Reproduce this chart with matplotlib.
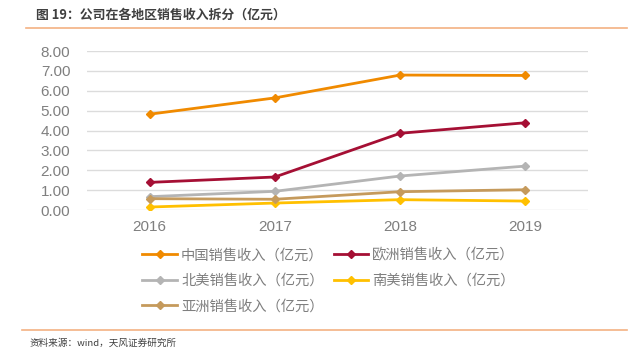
import matplotlib
matplotlib.use("Agg")
import matplotlib.pyplot as plt
from matplotlib.lines import Line2D

plt.rcParams['font.family'] = ['Noto Sans CJK SC', 'DejaVu Sans']

years = ["2016", "2017", "2018", "2019"]
china = [4.82, 5.64, 6.79, 6.77]
europe = [1.39, 1.66, 3.86, 4.39]
n_america = [0.67, 0.94, 1.71, 2.21]
s_america = [0.15, 0.35, 0.52, 0.45]
asia = [0.57, 0.54, 0.92, 1.02]
y_ticks = [0, 1, 2, 3, 4, 5, 6, 7, 8]

series = [
    ("中国销售收入（亿元）", china, "#F08A00"),
    ("欧洲销售收入（亿元）", europe, "#A50F34"),
    ("北美销售收入（亿元）", n_america, "#B4B4B4"),
    ("南美销售收入（亿元）", s_america, "#FFC000"),
    ("亚洲销售收入（亿元）", asia, "#C59A5C"),
]

fig = plt.figure(figsize=(6.33, 3.51), dpi=100)
ax = fig.add_axes([0.1374, 0.4017, 0.7915, 0.453])

x = range(len(years))
handles = {}
for name, vals, col in series:
    h, = ax.plot(x, vals, color=col, lw=2.0, marker="D", ms=4.5, label=name)
    handles[name] = h

ax.set_xlim(-0.5, len(years) - 0.5)
ax.set_ylim(0, 8)
ax.set_yticks(y_ticks)
ax.set_yticklabels([f"{v:.2f}" for v in y_ticks], family="Liberation Sans",
                   fontsize=11, color="#7F7F7F")
ax.set_xticks(list(x))
ax.set_xticklabels(years, family="Liberation Sans", fontsize=11, color="#7F7F7F")
ax.tick_params(length=0, pad=7)
ax.tick_params(axis="y", pad=12)
ax.grid(axis="y", color="#DCDCDC", lw=1)
ax.set_axisbelow(True)
for s in ax.spines.values():
    s.set_visible(False)

order = ["中国销售收入（亿元）", "北美销售收入（亿元）", "亚洲销售收入（亿元）",
         "欧洲销售收入（亿元）", "南美销售收入（亿元）"]
leg = fig.legend([handles[n] for n in order], order, ncol=2,
                 loc="upper left", bbox_to_anchor=(0.225, 0.293),
                 frameon=False, fontsize=10.3, handlelength=2.4,
                 handletextpad=0.3, columnspacing=0.7, labelspacing=0.8,
                 borderpad=0, borderaxespad=0)
for t in leg.get_texts():
    t.set_color("#7F7F7F")

fig.text(0.057, 0.957, "图 19：公司在各地区销售收入拆分（亿元）", fontsize=9.3,
         fontweight="bold", color="#404040", va="center")
fig.add_artist(Line2D([0.041, 0.99], [0.92, 0.92], color="#F4B183", lw=1.2))
fig.add_artist(Line2D([0.035, 0.99], [0.06, 0.06], color="#F4B183", lw=1.2))
fig.text(0.047, 0.023, "资料来源：wind，天风证券研究所", fontsize=6.9,
         color="#404040", va="center")

fig.savefig("out.png", dpi=100)
